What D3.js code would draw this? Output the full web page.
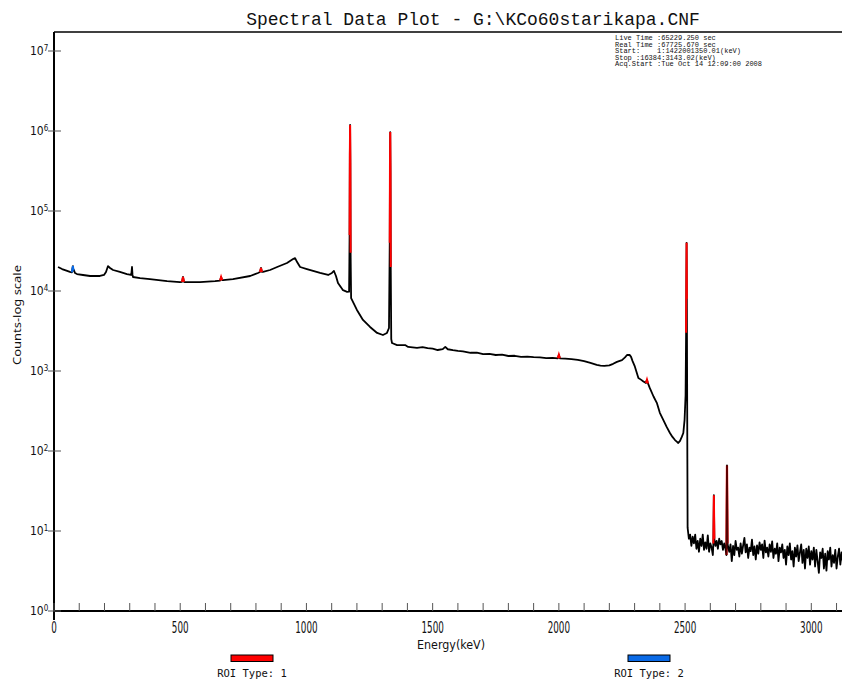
<!DOCTYPE html>
<html>
<head>
<meta charset="utf-8">
<script src="https://cdn.jsdelivr.net/npm/d3@7"></script>
<style>
  html, body { margin: 0; padding: 0; background: #ffffff; }
  svg { display: block; }
</style>
</head>
<body>
<div id="chart"></div>
<script>
// ---------------- DATA ----------------
const titleText = "Spectral Data Plot - G:\\KCo60starikapa.CNF";
const infoLines = [
  "Live Time :65229.250 sec",
  "Real Time :67725.670 sec",
  "Start:    1:1422001350.01(keV)",
  "Stop :16384:3143.02(keV)",
  "Acq.Start :Tue Oct 14 12:09:00 2008"
];
const xTickLabels = [0, 500, 1000, 1500, 2000, 2500, 3000];
const xMinorStep = 100;
const yTickExponents = [0, 1, 2, 3, 4, 5, 6, 7];
const legendItems = [
  { label: "ROI Type: 1", color: "#ff0000" },
  { label: "ROI Type: 2", color: "#0a6ae6" }
];

// spectrum: [energy keV, counts]
const spectrumLow = [
  [16,19950],[32,18800],[52,17800],[63,17300],[71,17100],[73,19000],[75,20500],[77,18000],
  [79,18300],[83,16800],[91,16300],[115,15850],[143,15400],[182,15400],[198,15850],[206,17300],
  [214,20500],[222,19400],[234,18300],[261,17300],[289,16300],[305,15850],[307,17000],[309,19950],
  [311,16000],[313,14960],[341,14500],[380,14100],[448,13300],[499,12900],[507,13000],[511,14960],
  [515,13000],[519,12900],[578,12900],[638,13300],[658,13500],[662,14960],[666,13700],[670,13700],
  [709,14100],[777,15400],[808,16800],[816,17300],[820,19400],[824,17300],[828,17300],[856,18300],
  [884,19950],[923,22400],[947,25100],[955,25800],[963,23000],[975,19950],[1002,18800],[1054,16800],
  [1086,15850],[1101,16800],[1109,17800],[1117,15400],[1125,12600],[1145,10230],[1161,9770],[1169,9800]
];
const spectrumPeaks = [
  [1171,50000],[1172,500000],[1173,1190000],[1174,400000],[1175,30000],[1177,8150],[1200,5800],
  [1224,4350],[1252,3550],[1280,2990],[1303,2820],[1319,2990],[1327,3450],[1330,40000],
  [1331,400000],[1332,970000],[1333,300000],[1334,20000],[1336,2500],[1339,2240],[1359,2110],
  [1391,2110],[1403,2000],[1438,1950]
];
const spectrumMid = [
  [1460,1990],[1480,1930],[1500,1900],[1520,1830],[1540,1880],[1550,2000],[1560,1870],[1580,1820],
  [1600,1780],[1620,1760],[1650,1690],[1675,1700],[1700,1630],[1725,1640],[1750,1585],[1775,1600],
  [1800,1540],[1825,1550],[1850,1500],[1875,1510],[1900,1490],[1925,1480],[1950,1450],[1975,1460],
  [1996,1440],[2000,1600],[2004,1440],[2025,1430],[2050,1410],[2075,1380],[2100,1330],[2125,1260],
  [2150,1190],[2165,1170],[2180,1160],[2200,1175],[2215,1230],[2230,1300],[2250,1370],[2262,1480],
  [2270,1585],[2280,1590],[2286,1500],[2292,1330],[2300,1160],[2315,820],[2325,780],[2335,740],
  [2345,708],[2349,780],[2353,700],[2360,615],[2375,480],[2388,400],[2400,300],[2415,240],
  [2427,200],[2440,168],[2450,150],[2460,137],[2467,131],[2473,126],[2480,134],[2487,150],
  [2493,168],[2498,245],[2502,500],[2504,3000],[2505,12000],[2506,40000],[2507,8000],[2508,900],
  [2509,80],[2510,11]
];
const spectrumTail = [
  [2515,8],[2520,9],[2525,6.5],[2530,8.5],[2535,7],[2540,9],[2545,6],[2550,7.5],[2555,5.5],
  [2560,8],[2565,6.5],[2570,9],[2575,5.8],[2580,7.2],[2585,6],[2590,8.8],[2595,5.5],[2600,7],
  [2605,6.2],[2610,5],[2612,7],[2614,28],[2616,8],[2620,6.5],[2625,7.5],[2630,6],[2635,8],
  [2640,6.8],[2645,7.5],[2650,5.8],[2655,7],[2660,6],[2664,5],[2666,66],[2668,7],[2672,6],
  [2675,5.5],[2680,6.8],[2685,4.2],[2690,6.5],[2695,5],[2700,7.5],[2705,5.8],[2710,6.2],
  [2715,4.8],[2720,7],[2725,5.2],[2730,6.6],[2735,8.2],[2740,5.4],[2745,6.8],[2750,4.6],
  [2755,6.2],[2760,5.6],[2765,7.8],[2770,5],[2775,6.4],[2780,4.4],[2785,6.6],[2790,5.2],
  [2795,7.2],[2800,5.8],[2805,6.8],[2810,4.6],[2815,7.6],[2820,5.4],[2825,6.2],[2830,4.8],
  [2835,6.8],[2840,5.5],[2845,7.4],[2850,4.6],[2855,6],[2860,5.2],[2865,7],[2870,4.2],
  [2875,6.2],[2880,5.4],[2885,6.8],[2890,4.6],[2895,5.8],[2900,3.8],[2905,6.4],[2910,5],
  [2915,7],[2920,4.4],[2925,5.6],[2930,3.6],[2935,6.2],[2940,4.8],[2945,6.6],[2950,4.2],
  [2955,5.4],[2960,6.8],[2965,4],[2970,5.8],[2975,3.4],[2980,6],[2985,4.6],[2990,6.4],
  [2995,3.8],[3000,5.6],[3005,4.4],[3010,6.2],[3015,3.6],[3020,5.8],[3025,4.2],[3030,3],
  [3035,5.4],[3040,4.6],[3045,6],[3050,3.4],[3055,5.2],[3060,3.2],[3065,5.6],[3070,4.4],
  [3075,6.2],[3080,3.6],[3085,5],[3090,4],[3095,5.8],[3100,3.4],[3105,4.8],[3110,6],
  [3115,3.8],[3120,5.4],[3125,4.2],[3130,5.8],[3135,3.6],[3140,4.8]
];
// ROI regions [start keV, end keV]
const roiType1 = [[507,515],[658,666],[816,824],[1170,1176],[1329,1335],[1996,2004],
                  [2345,2353],[2503,2507],[2612,2616]];
const roiType1Under = [[2664,2668]];
const roiType2 = [[71,77],[1105,1113]];

// ---------------- LAYOUT ----------------
const W = 842, H = 681;
const plotLeft = 54, plotTop = 32, plotBottom = 611, plotRight = 842;

const spectrum = [].concat(spectrumLow, spectrumPeaks, spectrumMid, spectrumTail);

const x = d3.scaleLinear().domain([0, 3000]).range([54, 811.3]);
const y = d3.scaleLog().domain([1, 1e7]).range([611, 51]);

const svg = d3.select("#chart").append("svg")
  .attr("width", W).attr("height", H);

svg.append("defs").append("clipPath").attr("id", "plotclip")
  .append("rect").attr("x", plotLeft).attr("y", plotTop)
  .attr("width", plotRight - plotLeft).attr("height", plotBottom - plotTop);

// title
svg.append("text")
  .attr("x", 473).attr("y", 25)
  .attr("text-anchor", "middle")
  .attr("font-family", "'Liberation Mono', 'DejaVu Sans Mono', monospace")
  .attr("font-size", 18)
  .attr("fill", "#111")
  .text(titleText);

// info block
const info = svg.append("g");
infoLines.forEach((t, i) => {
  info.append("text")
    .attr("x", 615).attr("y", 40 + i * 6.6)
    .attr("font-family", "'Liberation Mono', 'DejaVu Sans Mono', monospace")
    .attr("font-size", 7)
    .attr("fill", "#111")
    .style("white-space", "pre")
    .text(t);
});

// spectrum
const line = d3.line().x(d => x(d[0])).y(d => y(d[1]));
const plot = svg.append("g").attr("clip-path", "url(#plotclip)");

function inRange(r) { return spectrum.filter(d => d[0] >= r[0] && d[0] <= r[1]); }

roiType1Under.forEach(r => {
  plot.append("path").datum(inRange(r))
    .attr("d", line).attr("fill", "none")
    .attr("stroke", "#ff0000").attr("stroke-width", 2.2);
});

plot.append("path").datum(spectrum)
  .attr("d", line)
  .attr("fill", "none")
  .attr("stroke", "#000")
  .attr("stroke-width", 1.8)
  .attr("stroke-linejoin", "round");

roiType1Under.forEach(r => {
  plot.append("path").datum(inRange(r))
    .attr("d", line).attr("fill", "none")
    .attr("stroke", "#ff0000").attr("stroke-opacity", 0.35).attr("stroke-width", 2);
});
roiType1.forEach(r => {
  plot.append("path").datum(inRange(r))
    .attr("d", line).attr("fill", "none")
    .attr("stroke", legendItems[0].color).attr("stroke-width", 2);
});
roiType2.forEach(r => {
  plot.append("path").datum(inRange(r))
    .attr("d", line).attr("fill", "none")
    .attr("stroke", legendItems[1].color).attr("stroke-width", 2);
});

// axes frame
svg.append("line").attr("x1", plotLeft).attr("x2", plotRight)
  .attr("y1", plotTop).attr("y2", plotTop)
  .attr("stroke", "#000").attr("stroke-width", 1.5);
svg.append("line").attr("x1", plotLeft).attr("x2", plotLeft)
  .attr("y1", plotTop).attr("y2", 620)
  .attr("stroke", "#000").attr("stroke-width", 2);
svg.append("line").attr("x1", plotLeft).attr("x2", plotRight)
  .attr("y1", plotBottom).attr("y2", plotBottom)
  .attr("stroke", "#000").attr("stroke-width", 2);

// x minor ticks
const xMinor = d3.range(0, 3200, xMinorStep);
svg.append("g").selectAll("line").data(xMinor).join("line")
  .attr("x1", d => x(d)).attr("x2", d => x(d))
  .attr("y1", plotBottom - 8).attr("y2", plotBottom)
  .attr("stroke", "#555").attr("stroke-width", 1);

// x tick labels
svg.append("g").selectAll("text").data(xTickLabels).join("text")
  .attr("x", d => x(d)).attr("y", 633)
  .attr("text-anchor", "middle")
  .attr("font-family", "'Liberation Sans Narrow', 'DejaVu Sans Condensed', sans-serif")
  .attr("font-size", 15)
  .attr("textLength", d => String(d).length * 5.6)
  .attr("lengthAdjust", "spacingAndGlyphs")
  .attr("fill", "#111")
  .text(d => d);

svg.append("text")
  .attr("x", 451).attr("y", 649)
  .attr("text-anchor", "middle")
  .attr("font-family", "'Liberation Sans Narrow', 'DejaVu Sans Condensed', sans-serif")
  .attr("font-size", 13)
  .attr("textLength", 68)
  .attr("lengthAdjust", "spacingAndGlyphs")
  .attr("fill", "#111")
  .text("Energy(keV)");

// y ticks
const yt = svg.append("g");
yTickExponents.forEach(e => {
  const yy = y(Math.pow(10, e));
  yt.append("line").attr("x1", 48).attr("x2", 61)
    .attr("y1", yy).attr("y2", yy)
    .attr("stroke", "#555").attr("stroke-width", 1);
  const t = yt.append("text")
    .attr("x", 30).attr("y", yy + 4)
    .attr("font-family", "'Liberation Sans Narrow', 'DejaVu Sans Condensed', sans-serif")
    .attr("font-size", 12)
    .attr("fill", "#111");
  t.append("tspan").text("10");
  t.append("tspan").attr("dy", -4).attr("font-size", 8).text(e);
});

// y label
svg.append("text")
  .attr("transform", "translate(21,315) rotate(-90)")
  .attr("text-anchor", "middle")
  .attr("font-family", "'Noto Sans', 'Open Sans', sans-serif")
  .attr("font-size", 11)
  .attr("textLength", 100)
  .attr("lengthAdjust", "spacingAndGlyphs")
  .attr("fill", "#111")
  .text("Counts-log scale");

// legend
const legendPos = [252, 649];
legendItems.forEach((it, i) => {
  const cx = legendPos[i];
  svg.append("rect")
    .attr("x", cx - 21).attr("y", 655)
    .attr("width", 42).attr("height", 6.5)
    .attr("fill", it.color).attr("stroke", "#000").attr("stroke-width", 1);
  svg.append("text")
    .attr("x", cx).attr("y", 677)
    .attr("text-anchor", "middle")
    .attr("font-family", "'DejaVu Sans Mono', 'Liberation Mono', monospace")
    .attr("font-size", 10.5)
    .attr("fill", "#111")
    .text(it.label);
});
</script>
</body>
</html>
